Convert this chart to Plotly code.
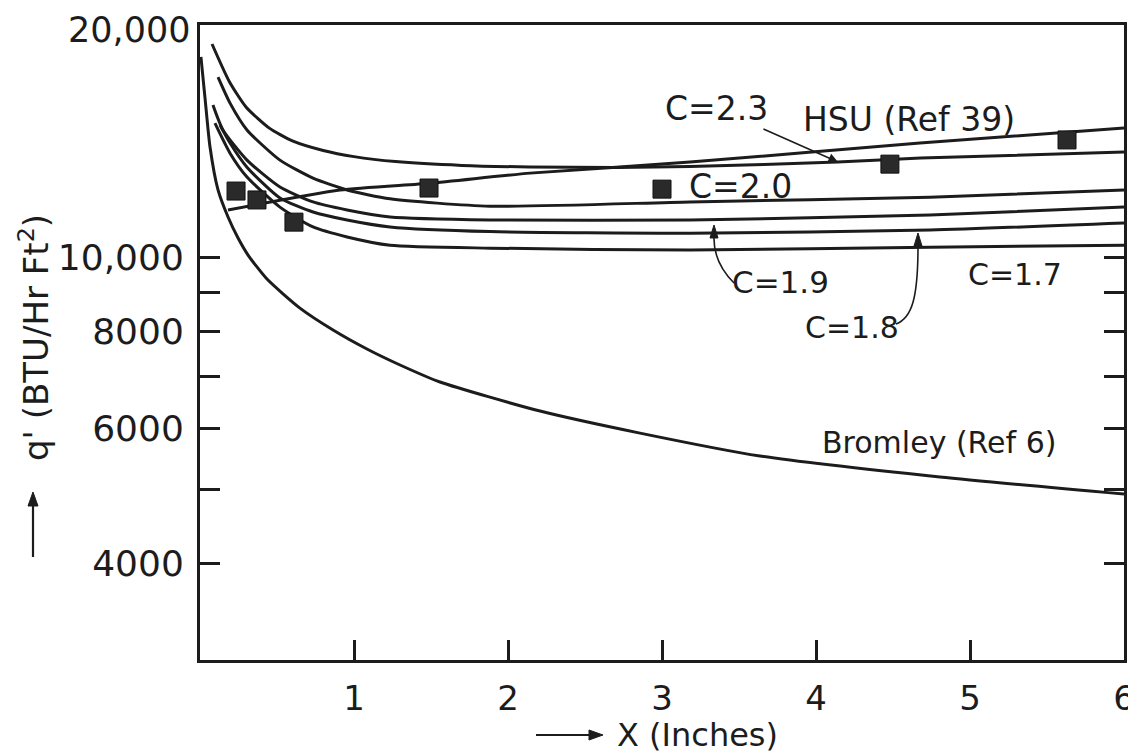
import plotly.graph_objects as go

# ---------------- data ----------------
bromley_x = [0.006, 0.032, 0.065, 0.117, 0.182, 0.247, 0.312, 0.435, 0.649, 0.864, 1.084, 1.299,
             1.558, 2.208, 2.857, 3.636, 4.805, 6.0]
bromley_q = [18180, 16130, 13890, 12220, 11270, 10585, 10060, 9364, 8586, 8042, 7598, 7243,
             6884, 6312, 5909, 5518, 5183, 4925]

c23_x = [0.078, 0.19, 0.30, 0.45, 0.6, 0.8, 1.0, 1.27, 1.7, 2.14, 2.7, 3.18, 4.14, 4.68, 6.0]
c23_q = [18900, 16900, 15650, 14700, 14150, 13750, 13500, 13300, 13150, 13090, 13070, 13110, 13280, 13440, 13690]

c20_x = [0.117, 0.195, 0.305, 0.519, 0.734, 0.955, 1.234, 1.883, 3.182, 4.74, 6.0]
c20_q = [17120, 15840, 14620, 13360, 12660, 12220, 11900, 11640, 11790, 11960, 12220]

c19_x = [0.084, 0.149, 0.305, 0.519, 0.734, 0.955, 1.234, 1.883, 3.182, 4.74, 6.0]
c19_q = [15750, 14620, 13360, 12330, 11790, 11510, 11270, 11170, 11170, 11340, 11610]

c18_x = [0.13, 0.195, 0.305, 0.519, 0.734, 0.955, 1.234, 1.883, 3.182, 4.74, 6.0]
c18_q = [14840, 14060, 13080, 11930, 11440, 11170, 10940, 10790, 10740, 10840, 11070]

c17_x = [0.097, 0.195, 0.305, 0.519, 0.734, 0.955, 1.234, 1.883, 3.182, 4.74, 6.0]
c17_q = [14920, 13640, 12700, 11610, 10940, 10620, 10360, 10270, 10210, 10300, 10360]

hsu_x = [0.182, 0.909, 1.494, 2.143, 3.182, 4.675, 6.0]
hsu_q = [11510, 12220, 12470, 12850, 13280, 14060, 14700]

data_x = [0.234, 0.37, 0.61, 1.487, 3.0, 4.48, 5.63]
data_q = [12180, 11860, 11100, 12290, 12250, 13200, 14190]

y_tickvals = [4000, 6000, 8000, 10000]
y_ticktext = ["4000", "6000", "8000", "10,000"]
y_top_label = "20,000"
y_minor_vals = [5000, 7000, 9000]
x_tickvals = [1, 2, 3, 4, 5, 6]
x_ticktext = ["1", "2", "3", "4", "5", "6"]

# ---------------- layout geometry ----------------
OFF = 8                      # page body margin of the html page
W, H = 1136 - OFF, 756 - OFF
ML, MR, MT, MB = 200 - OFF, 12, 25 - OFF, 96
PW, PH = W - ML - MR, H - MT - MB


def P(xp, yp):
    """page pixel position -> paper coordinates (for decorations only)"""
    return (xp - 200) / PW, (660 - yp) / PH


INK = "#1c1c1c"
FONT = "DejaVu Sans"

fig = go.Figure()

line_style = dict(color=INK, width=3, shape="spline", smoothing=0.6)
for xs, qs, nm in [
    (bromley_x, bromley_q, "Bromley (Ref 6)"),
    (c23_x, c23_q, "C=2.3"),
    (c20_x, c20_q, "C=2.0"),
    (c19_x, c19_q, "C=1.9"),
    (c18_x, c18_q, "C=1.8"),
    (c17_x, c17_q, "C=1.7"),
    (hsu_x, hsu_q, "HSU (Ref 39)"),
]:
    fig.add_trace(go.Scatter(x=xs, y=qs, mode="lines", name=nm, line=line_style,
                             showlegend=False, hoverinfo="skip"))

fig.add_trace(go.Scatter(x=data_x, y=data_q, mode="markers", name="data",
                         marker=dict(symbol="square", size=18, color="#2a2a2a",
                                     line=dict(color="#111", width=1)),
                         showlegend=False))

annotations = []


def label(text, xp, yp, size, angle=0, xanchor="center", yanchor="middle"):
    ax_, ay_ = P(xp, yp)
    annotations.append(dict(text=text, x=ax_, y=ay_, xref="paper", yref="paper",
                            showarrow=False, textangle=angle, borderpad=0,
                            font=dict(family=FONT, size=size, color=INK),
                            xanchor=xanchor, yanchor=yanchor))


label("HSU (Ref 39)", 909, 120, 33)
label("C=2.0", 740, 187, 33)
label("C=1.9", 780, 282, 31)
label("C=1.7", 1015, 274, 30)
label("C=1.8", 852, 328, 30)
label("Bromley (Ref 6)", 939, 442, 30)
# top tick label of the log axis (sits on the frame edge)
label(y_top_label, 191, 9, 35, xanchor="right", yanchor="top")

# C=2.3 with a straight arrow
tx, ty = P(838, 162)
annotations.append(dict(text="C=2.3", x=tx, y=ty, xref="paper", yref="paper",
                        ax=-122, ay=-54, showarrow=True, arrowhead=2, arrowsize=1.2,
                        arrowwidth=1.6, arrowcolor=INK, standoff=0,
                        font=dict(family=FONT, size=33, color=INK)))

# axis titles (text) ; their arrows are drawn as shapes below
label("q' (BTU/Hr Ft<sup>2</sup>)", 34, 338, 34, angle=-90)
label("X (Inches)", 697, 735, 32)


def path(cmds):
    out = []
    for c in cmds:
        if isinstance(c, str):
            out.append(c)
        else:
            px_, py_ = P(*c)
            out.append(f"{px_:.5f},{py_:.5f}")
    return " ".join(out)


def tri(tip, b1, b2):
    return dict(type="path", xref="paper", yref="paper",
                path=path(["M", tip, "L", b1, "L", b2, "Z"]),
                fillcolor=INK, line=dict(color=INK, width=1))


shapes = [
    # C=1.9 curved leader
    dict(type="path", xref="paper", yref="paper",
         path=path(["M", (734, 283), "Q", (713, 262), (714, 236)]),
         line=dict(color=INK, width=1.6)),
    tri((714, 225), (710, 238), (718, 238)),
    # C=1.8 curved leader
    dict(type="path", xref="paper", yref="paper",
         path=path(["M", (896, 324), "C", (912, 318), (918, 298), (918, 246)]),
         line=dict(color=INK, width=1.6)),
    tri((918, 233), (914, 246), (922, 246)),
    # y-title arrow (pointing up)
    dict(type="line", xref="paper", yref="paper",
         x0=P(33, 557)[0], y0=P(33, 557)[1], x1=P(33, 502)[0], y1=P(33, 502)[1],
         line=dict(color=INK, width=2.2)),
    tri((33, 492), (28, 506), (38, 506)),
    # x-title arrow (pointing right)
    dict(type="line", xref="paper", yref="paper",
         x0=P(536, 735)[0], y0=P(536, 735)[1], x1=P(592, 735)[0], y1=P(592, 735)[1],
         line=dict(color=INK, width=2.2)),
    tri((603, 735), (589, 730), (589, 740)),
]

fig.update_layout(
    width=W, height=H,
    margin=dict(l=ML, r=MR, t=MT, b=MB, autoexpand=False),
    paper_bgcolor="white", plot_bgcolor="white",
    annotations=annotations, shapes=shapes,
    showlegend=False,
)

fig.update_xaxes(range=[0, 6], showgrid=False, zeroline=False, automargin=False,
                 showline=True, linecolor=INK, linewidth=3, mirror=True,
                 ticks="inside", ticklen=20, tickwidth=2.5, tickcolor=INK,
                 tickvals=x_tickvals, ticktext=x_ticktext,
                 tickfont=dict(family=FONT, size=34, color=INK),
                 ticklabelstandoff=6)

fig.update_yaxes(type="log", range=[3.47712, 4.30112], showgrid=False, zeroline=False,
                 automargin=False,
                 showline=True, linecolor=INK, linewidth=3, mirror="ticks",
                 ticks="inside", ticklen=20, tickwidth=2.5, tickcolor=INK,
                 tickvals=y_tickvals, ticktext=y_ticktext,
                 tickfont=dict(family=FONT, size=36, color=INK),
                 ticklabelstandoff=6,
                 minor=dict(tickvals=y_minor_vals, ticks="inside", ticklen=20,
                            tickwidth=2.5, tickcolor=INK, showgrid=False))

fig.write_html("out.html")
